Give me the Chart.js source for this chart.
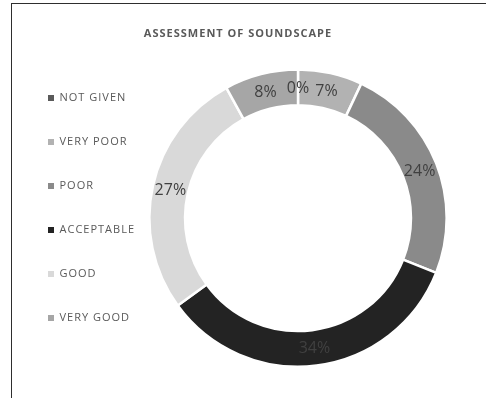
<!DOCTYPE html>
<html>
<head>
<meta charset="utf-8">
<script src="https://cdn.jsdelivr.net/npm/chart.js@4"></script>
<style>
  html, body { margin: 0; padding: 0; background: #fff; }
  #wrap { position: relative; width: 486px; height: 398px; overflow: hidden; }
  #wrap canvas { position: absolute; left: 0; top: 0; }
  #frame {
    position: absolute; left: 11px; top: 3px; right: 0; bottom: 0;
    border-top: 1px solid #2e2e2e; border-left: 1px solid #2e2e2e;
    pointer-events: none;
  }
</style>
</head>
<body>
<div id="wrap">
  <canvas id="soundChart" width="486" height="398"></canvas>
  <div id="frame"></div>
</div>
<script>
const categories = ["NOT GIVEN", "VERY POOR", "POOR", "ACCEPTABLE", "GOOD", "VERY GOOD"];
const shares = [0, 7, 24, 34, 27, 8];
const sliceColors = ["#5a5a5a", "#b2b2b2", "#8a8a8a", "#232323", "#d9d9d9", "#a6a6a6"];

const FONT = "'Open Sans', 'Noto Sans', sans-serif";

// wide tracking for title + legend, normal for the slice labels
const spacedText = {
  id: "spacedText",
  beforeDraw(chart) { chart.ctx.letterSpacing = "1px"; },
  beforeDatasetsDraw(chart) { chart.ctx.letterSpacing = "0px"; }
};

// legend column sits a bit lower than the plain centred position
const legendOffset = {
  id: "legendOffset",
  afterLayout(chart) {
    chart.legend.top += 24;
    chart.legend.bottom += 24;
  }
};

// percentage written in the middle of each ring segment
const percentLabels = {
  id: "percentLabels",
  afterDatasetsDraw(chart) {
    const { ctx } = chart;
    const meta = chart.getDatasetMeta(0);
    ctx.save();
    ctx.font = "16px " + FONT;
    ctx.fillStyle = "#404040";
    ctx.textAlign = "center";
    ctx.textBaseline = "middle";
    meta.data.forEach((arc, i) => {
      const pos = arc.tooltipPosition();
      ctx.fillText(shares[i] + "%", pos.x, pos.y + 1);
    });
    ctx.restore();
  }
};

const ctx = document.getElementById("soundChart").getContext("2d");

new Chart(ctx, {
  type: "doughnut",
  data: {
    labels: categories,
    datasets: [{
      data: shares,
      backgroundColor: sliceColors,
      borderColor: "#ffffff",
      borderWidth: 2.5
    }]
  },
  options: {
    responsive: false,
    animation: false,
    cutout: "76%",
    layout: { padding: { left: 15, right: 25, top: 0, bottom: 30 } },
    plugins: {
      title: {
        display: true,
        text: "ASSESSMENT OF SOUNDSCAPE",
        color: "#595959",
        font: { family: FONT, size: 11, weight: "bold" },
        padding: { top: 27, bottom: 28 }
      },
      legend: {
        position: "left",
        maxWidth: 122,
        labels: {
          boxWidth: 6,
          boxHeight: 6,
          padding: 33,
          color: "#595959",
          font: { family: FONT, size: 11 },
          generateLabels(chart) {
            const items = Chart.overrides.doughnut.plugins.legend.labels.generateLabels(chart);
            items.forEach(item => { item.lineWidth = 0; item.strokeStyle = "rgba(0,0,0,0)"; });
            return items;
          }
        }
      },
      tooltip: { enabled: false }
    }
  },
  plugins: [spacedText, legendOffset, percentLabels]
});
</script>
</body>
</html>
